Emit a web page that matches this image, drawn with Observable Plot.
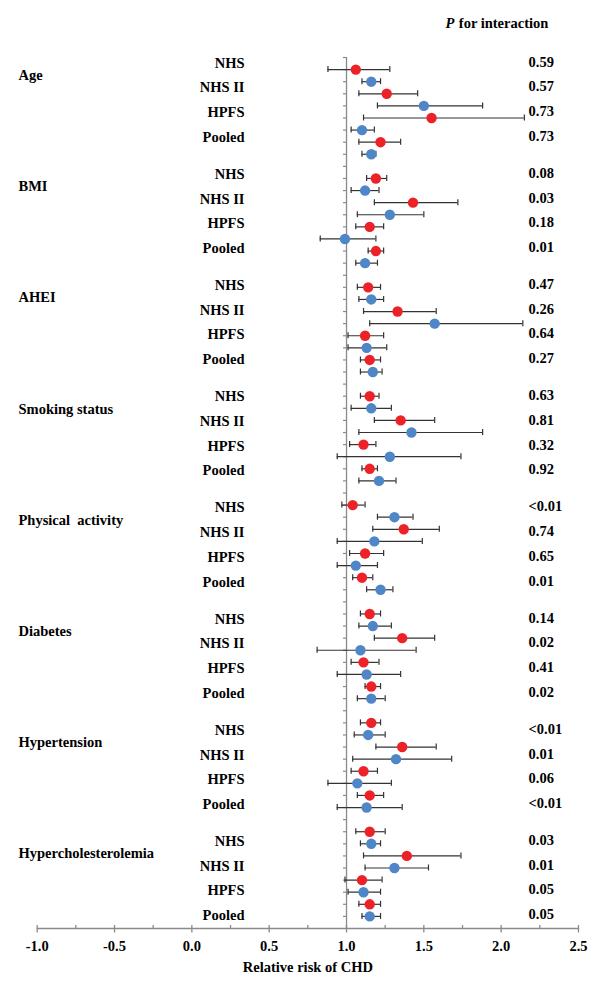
<!DOCTYPE html>
<html>
<head>
<meta charset="utf-8">
<script src="https://cdn.jsdelivr.net/npm/d3@7"></script>
<script src="https://cdn.jsdelivr.net/npm/@observablehq/plot@0.6"></script>
<style>
  html, body { margin: 0; padding: 0; background: #fff; }
</style>
</head>
<body>
<div id="chart"></div>
<script>
// ---- data ----
const groups = ["Age", "BMI", "AHEI", "Smoking status", "Physical \u00A0activity", "Diabetes", "Hypertension", "Hypercholesterolemia"];
const cohorts = ["NHS", "NHS II", "HPFS", "Pooled"];
const xTicks = [-1.0, -0.5, 0.0, 0.5, 1.0, 1.5, 2.0, 2.5];

// red series (relative risk, lower CI, upper CI), per group x cohort
const redRR = [
  [1.06, 1.26, 1.55, 1.22],
  [1.19, 1.43, 1.15, 1.19],
  [1.14, 1.33, 1.12, 1.15],
  [1.15, 1.35, 1.11, 1.15],
  [1.04, 1.37, 1.12, 1.10],
  [1.15, 1.36, 1.11, 1.16],
  [1.16, 1.36, 1.11, 1.15],
  [1.15, 1.39, 1.10, 1.15]
];
const redLo = [
  [0.88, 1.08, 1.11, 1.08],
  [1.13, 1.18, 1.06, 1.14],
  [1.07, 1.11, 1.01, 1.09],
  [1.09, 1.18, 1.02, 1.10],
  [0.97, 1.17, 1.02, 1.04],
  [1.09, 1.18, 1.03, 1.12],
  [1.09, 1.19, 1.03, 1.07],
  [1.06, 1.11, 0.99, 1.08]
];
const redHi = [
  [1.28, 1.46, 2.15, 1.35],
  [1.26, 1.72, 1.24, 1.24],
  [1.22, 1.58, 1.24, 1.22],
  [1.21, 1.57, 1.19, 1.20],
  [1.12, 1.60, 1.24, 1.17],
  [1.22, 1.57, 1.21, 1.22],
  [1.22, 1.58, 1.20, 1.24],
  [1.25, 1.74, 1.23, 1.22]
];
// blue series
const blueRR = [
  [1.16, 1.50, 1.10, 1.16],
  [1.12, 1.28, 0.99, 1.12],
  [1.16, 1.57, 1.13, 1.17],
  [1.16, 1.42, 1.28, 1.21],
  [1.31, 1.18, 1.06, 1.22],
  [1.17, 1.09, 1.13, 1.16],
  [1.14, 1.32, 1.07, 1.13],
  [1.16, 1.31, 1.11, 1.15]
];
const blueLo = [
  [1.10, 1.20, 1.03, 1.10],
  [1.03, 1.07, 0.83, 1.06],
  [1.08, 1.15, 1.01, 1.09],
  [1.03, 1.08, 0.94, 1.08],
  [1.20, 0.94, 0.94, 1.13],
  [1.08, 0.81, 0.94, 1.07],
  [1.05, 1.04, 0.88, 0.94],
  [1.09, 1.12, 1.01, 1.10]
];
const blueHi = [
  [1.22, 1.88, 1.18, 1.19],
  [1.21, 1.50, 1.19, 1.20],
  [1.24, 2.14, 1.26, 1.23],
  [1.29, 1.88, 1.74, 1.32],
  [1.43, 1.49, 1.20, 1.30],
  [1.29, 1.45, 1.35, 1.25],
  [1.25, 1.68, 1.29, 1.36],
  [1.22, 1.53, 1.22, 1.22]
];
const pInteraction = [
  ["0.59", "0.57", "0.73", "0.73"],
  ["0.08", "0.03", "0.18", "0.01"],
  ["0.47", "0.26", "0.64", "0.27"],
  ["0.63", "0.81", "0.32", "0.92"],
  ["<0.01", "0.74", "0.65", "0.01"],
  ["0.14", "0.02", "0.41", "0.02"],
  ["<0.01", "0.01", "0.06", "<0.01"],
  ["0.03", "0.01", "0.05", "0.05"]
];

// ---- layout ----
const W = 601, H = 988;
const mTop = 57, mBottom = 60, mLeft = 36.7, mRight = 23;
const nSlots = 72;
const slotPx = (H - mTop - mBottom) / nSlots;
const unitPx = (W - mLeft - mRight) / 3.5;
const RED = "#ED2229", BLUE = "#4F86C8", LINE = "#8a8a8a", BAR = "#333";
const FONT = "Liberation Serif, Times New Roman, serif";

const points = [];
groups.forEach((g, gi) => cohorts.forEach((c, ci) => {
  points.push({group: g, cohort: c, series: "red", slot: gi * 9 + 1 + ci * 2,
    rr: redRR[gi][ci], lo: redLo[gi][ci], hi: redHi[gi][ci]});
  points.push({group: g, cohort: c, series: "blue", slot: gi * 9 + 2 + ci * 2,
    rr: blueRR[gi][ci], lo: blueLo[gi][ci], hi: blueHi[gi][ci]});
}));

// label rows (text boxes drift slightly from the point grid in the source)
const labelRows = [];
groups.forEach((g, gi) => cohorts.forEach((c, ci) => {
  labelRows.push({group: g, cohort: c, p: pInteraction[gi][ci],
    slot: (5.5 + 111.2 * gi + 24.7 * ci) / slotPx});
}));
const groupRows = groups.map((g, gi) => ({group: g, slot: (17.8 + 111.2 * gi) / slotPx}));

const minorTicks = d3.range(-0.75, 2.5, 0.5);
const capH = 3 / slotPx;

const txt = {fontFamily: FONT, fontWeight: "bold", fontSize: 14.5, fill: "#000"};

const chart = Plot.plot({
  width: W, height: H,
  marginTop: mTop, marginBottom: mBottom, marginLeft: mLeft, marginRight: mRight,
  style: {background: "#fff", fontFamily: FONT},
  x: {domain: [-1, 2.5], axis: null},
  y: {domain: [0, nSlots], reverse: true, axis: null},
  marks: [
    // x axis
    Plot.ruleY([nSlots], {stroke: LINE, strokeWidth: 1.3}),
    Plot.ruleX(xTicks, {x: d => d, y1: nSlots - 3 / slotPx, y2: nSlots + 4.5 / slotPx, stroke: LINE, strokeWidth: 1.3}),
    Plot.ruleX(minorTicks, {x: d => d, y1: nSlots - 3 / slotPx, y2: nSlots, stroke: LINE, strokeWidth: 1.3}),
    Plot.text(xTicks, {x: d => d, y: nSlots, dy: 17.4, text: d => d.toFixed(1), ...txt}),
    Plot.text(["Relative risk of CHD"], {frameAnchor: "bottom", dy: 39, lineAnchor: "middle", ...txt}),
    // reference line at 1 with slot ticks
    Plot.ruleX([1], {y1: 0, y2: nSlots, stroke: LINE, strokeWidth: 1.3}),
    Plot.ruleY(d3.range(0, nSlots), {y: d => d, x1: 1 - 3 / unitPx, x2: 1, stroke: LINE, strokeWidth: 1.2}),
    // error bars
    Plot.ruleY(points, {y: "slot", x1: "lo", x2: "hi", stroke: BAR, strokeWidth: 1.2}),
    Plot.ruleX(points, {x: "lo", y1: d => d.slot - capH, y2: d => d.slot + capH, stroke: BAR, strokeWidth: 1.2}),
    Plot.ruleX(points, {x: "hi", y1: d => d.slot - capH, y2: d => d.slot + capH, stroke: BAR, strokeWidth: 1.2}),
    // points
    Plot.dot(points, {x: "rr", y: "slot", r: 5.2, fill: d => d.series === "red" ? RED : BLUE, stroke: "none"}),
    // labels
    Plot.text(groupRows, {y: "slot", text: "group", frameAnchor: "left", dx: 18 - mLeft, textAnchor: "start", ...txt}),
    Plot.text(labelRows, {y: "slot", text: "cohort", frameAnchor: "left", dx: 244 - mLeft, textAnchor: "end", ...txt}),
    Plot.text(labelRows, {y: "slot", text: "p", frameAnchor: "left", dx: 528 - mLeft, dy: -1, textAnchor: "start", ...txt}),
    // header
    Plot.text(["P"], {frameAnchor: "top-left", dx: 445 - mLeft, dy: 22.7 - mTop, textAnchor: "start", lineAnchor: "middle", ...txt, fontStyle: "italic"}),
    Plot.text(["for interaction"], {frameAnchor: "top-left", dx: 445 - mLeft + 13.3, dy: 22.7 - mTop, textAnchor: "start", lineAnchor: "middle", ...txt})
  ]
});
document.getElementById("chart").appendChild(chart);
</script>
</body>
</html>
